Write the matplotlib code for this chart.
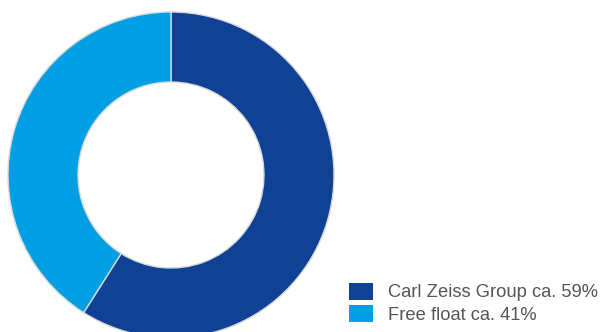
import matplotlib
matplotlib.use("Agg")
import matplotlib.pyplot as plt
from matplotlib.patches import Patch

labels = ["Carl Zeiss Group ca. 59%", "Free float ca. 41%"]
values = [59, 41]
colors = ["#0F4194", "#009FE3"]

plt.rcParams['font.family'] = ['Liberation Sans', 'DejaVu Sans']

fig = plt.figure(figsize=(6.01, 3.32), dpi=100)
ax = fig.add_axes([0, 0, 1, 1])
ax.pie(values, colors=colors, startangle=90, counterclock=False,
       center=(171, 157), radius=163,
       wedgeprops=dict(width=70, edgecolor="#D8D8D8", linewidth=1.0))
ax.set_xlim(0, 601)
ax.set_ylim(0, 332)
ax.set_aspect('equal', adjustable='box')
ax.axis('off')

handles = [Patch(facecolor=c, edgecolor='none') for c in colors]
leg = ax.legend(handles, labels, loc='lower left', bbox_to_anchor=(349/601, 8/332),
                frameon=False, fontsize=13.2, handlelength=1.32, handleheight=1.07,
                handletextpad=0.82, labelspacing=0.2, borderpad=0, borderaxespad=0,
                labelcolor='#555555')
fig.savefig("out.png", dpi=100)
